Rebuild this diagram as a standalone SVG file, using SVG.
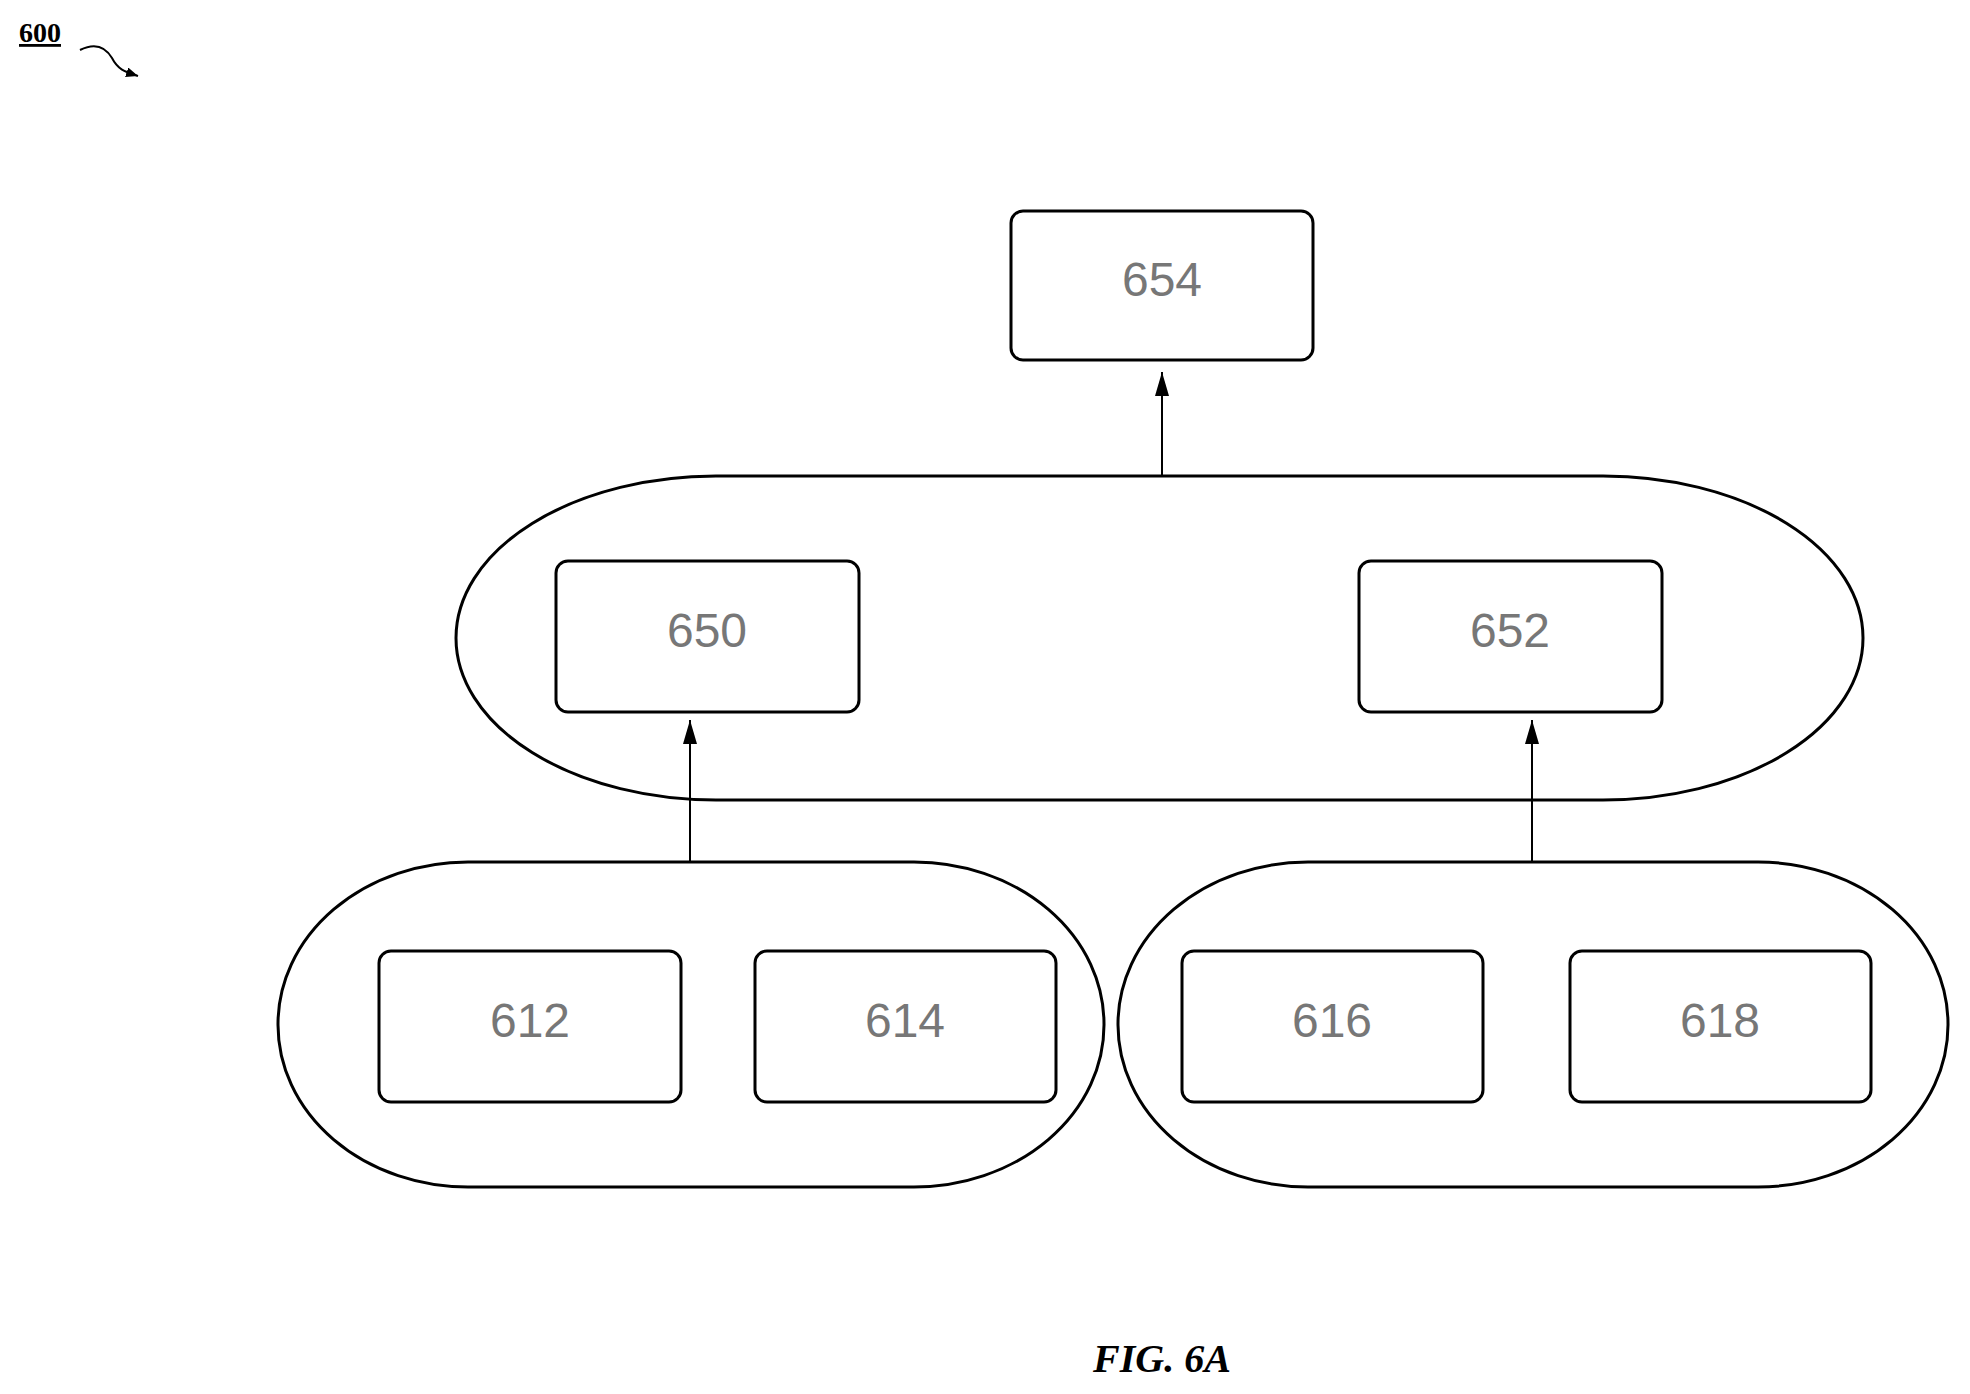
<svg xmlns="http://www.w3.org/2000/svg" width="1970" height="1394" viewBox="0 0 1970 1394">
<style>
.b{fill:#fff;stroke:#000;stroke-width:3}
.g{fill:none;stroke:#000;stroke-width:3}
.t{font-family:"Liberation Sans",Arial,sans-serif;font-size:48px;fill:#777;text-anchor:middle}
.c{stroke:#000;stroke-width:2;fill:none}
</style>
<defs><marker id="a" markerWidth="24" markerHeight="16" refX="24" refY="8" orient="auto" markerUnits="userSpaceOnUse" viewBox="0 0 24 16"><path d="M0,1 L24,8 L0,15 Z" fill="#000"/></marker>
<marker id="s" markerWidth="12" markerHeight="10" refX="12" refY="5" orient="auto" markerUnits="userSpaceOnUse" viewBox="0 0 12 10"><path d="M0,0 L12,5 L0,10 Z" fill="#000"/></marker></defs>
<rect width="1970" height="1394" fill="#fff"/>
<g id="label600"><text x="19" y="42" font-family="Liberation Serif,serif" font-weight="bold" font-size="28" text-decoration="underline">600</text>
<path d="M80,50 C96,42 106,48 112,58 C118,70 126,72 138,76" class="c" marker-end="url(#s)"/></g>
<g id="group650652"><rect x="456" y="476" width="1407" height="324" rx="260" ry="162" class="g"/></g>
<g id="group612614"><rect x="278" y="862" width="826" height="325" rx="190" ry="162" class="g"/></g>
<g id="group616618"><rect x="1118" y="862" width="830" height="325" rx="190" ry="162" class="g"/></g>
<g id="n654"><rect x="1011" y="211" width="302" height="149" rx="12" class="b"/><text x="1162" y="296" class="t">654</text></g>
<g id="n650"><rect x="556" y="561" width="303" height="151" rx="12" class="b"/><text x="707" y="647" class="t">650</text></g>
<g id="n652"><rect x="1359" y="561" width="303" height="151" rx="12" class="b"/><text x="1510" y="647" class="t">652</text></g>
<g id="n612"><rect x="379" y="951" width="302" height="151" rx="12" class="b"/><text x="530" y="1037" class="t">612</text></g>
<g id="n614"><rect x="755" y="951" width="301" height="151" rx="12" class="b"/><text x="905" y="1037" class="t">614</text></g>
<g id="n616"><rect x="1182" y="951" width="301" height="151" rx="12" class="b"/><text x="1332" y="1037" class="t">616</text></g>
<g id="n618"><rect x="1570" y="951" width="301" height="151" rx="12" class="b"/><text x="1720" y="1037" class="t">618</text></g>
<g id="connectors">
<line x1="1162" y1="476" x2="1162" y2="372" class="c" marker-end="url(#a)"/>
<line x1="690" y1="862" x2="690" y2="720" class="c" marker-end="url(#a)"/>
<line x1="1532" y1="862" x2="1532" y2="720" class="c" marker-end="url(#a)"/>
</g>
<text x="1162" y="1372" font-family="Liberation Serif,serif" font-style="italic" font-weight="bold" font-size="40" text-anchor="middle">FIG. 6A</text>
</svg>
